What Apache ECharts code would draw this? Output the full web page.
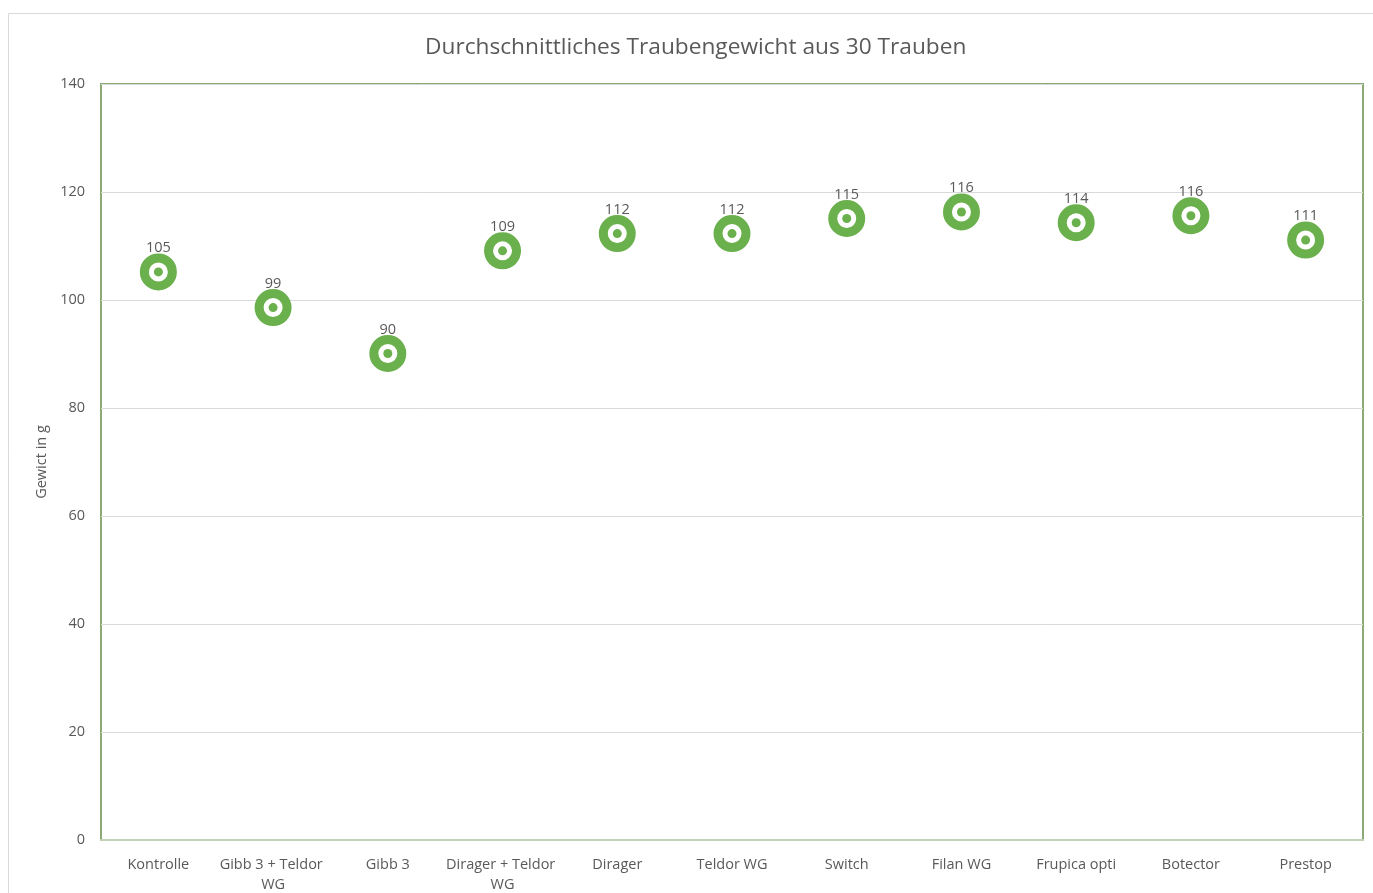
<!DOCTYPE html>
<html>
<head>
<meta charset="utf-8">
<script src="https://cdn.jsdelivr.net/npm/echarts@6/dist/echarts.min.js"></script>
<style>
html,body{margin:0;padding:0;background:#fff;}
#c{width:1373px;height:893px;}
</style>
</head>
<body>
<div id="c"></div>
<script>
const categories = ["Kontrolle", "Gibb 3 + Teldor WG", "Gibb 3", "Dirager + Teldor WG", "Dirager", "Teldor WG", "Switch", "Filan WG", "Frupica opti", "Botector", "Prestop"];
const weights = [105.2, 98.6, 90.1, 109.1, 112.3, 112.3, 115.1, 116.3, 114.3, 115.6, 111.1];
const titleText = "Durchschnittliches Traubengewicht aus 30 Trauben";
const yAxisName = "Gewict in g";

const FONT = "'Open Sans', 'Liberation Sans', sans-serif";
const GREEN = '#6ab04c';
const chart = echarts.init(document.getElementById('c'), null, {renderer: 'canvas'});
chart.setOption({
  animation: false,
  backgroundColor: '#fff',
  graphic: [{
    type: 'rect', z: -10,
    shape: {x: 8.5, y: 13.5, width: 1380, height: 900},
    style: {fill: '#fff', stroke: '#d9d9d9', lineWidth: 1}
  }],
  title: {
    text: titleText, left: 420, top: 31,
    textStyle: {fontFamily: FONT, fontSize: 22.7, fontWeight: 'normal', color: '#595959'}
  },
  grid: {left: 101, right: 10, top: 84, bottom: 53, outerBoundsMode: 'none', containLabel: false,
    show: true, borderColor: '#8aab76', borderWidth: 2, backgroundColor: 'transparent'},
  xAxis: {
    type: 'category', data: categories,
    axisLine: {show: true, lineStyle: {color: '#c2d2b8', width: 2}},
    axisTick: {show: false},
    axisLabel: {fontFamily: FONT, fontSize: 14.5, color: '#595959', margin: 15, interval: 0, width: 114, overflow: 'break', lineHeight: 20}
  },
  yAxis: {
    type: 'value', min: 0, max: 140, interval: 20,
    name: yAxisName, nameLocation: 'middle', nameGap: 49, nameRotate: 90,
    nameTextStyle: {fontFamily: FONT, fontSize: 14.5, color: '#595959'},
    axisLine: {show: false}, axisTick: {show: false},
    axisLabel: {fontFamily: FONT, fontSize: 14.5, color: '#595959', margin: 16},
    splitLine: {lineStyle: {color: '#d9d9d9', width: 1}}
  },
  series: [{
    type: 'scatter', data: weights, symbol: 'circle', symbolSize: 28,
    itemStyle: {color: '#fff', borderColor: GREEN, borderWidth: 9, opacity: 1},
    label: {show: true, position: 'top', distance: -2, fontFamily: FONT, fontSize: 14.5, color: '#595959',
      formatter: p => Math.round(p.value)},
    z: 2
  }, {
    type: 'scatter', data: weights, symbol: 'circle', symbolSize: 9,
    itemStyle: {color: GREEN, opacity: 1}, silent: true, z: 3
  }]
});
</script>
</body>
</html>
